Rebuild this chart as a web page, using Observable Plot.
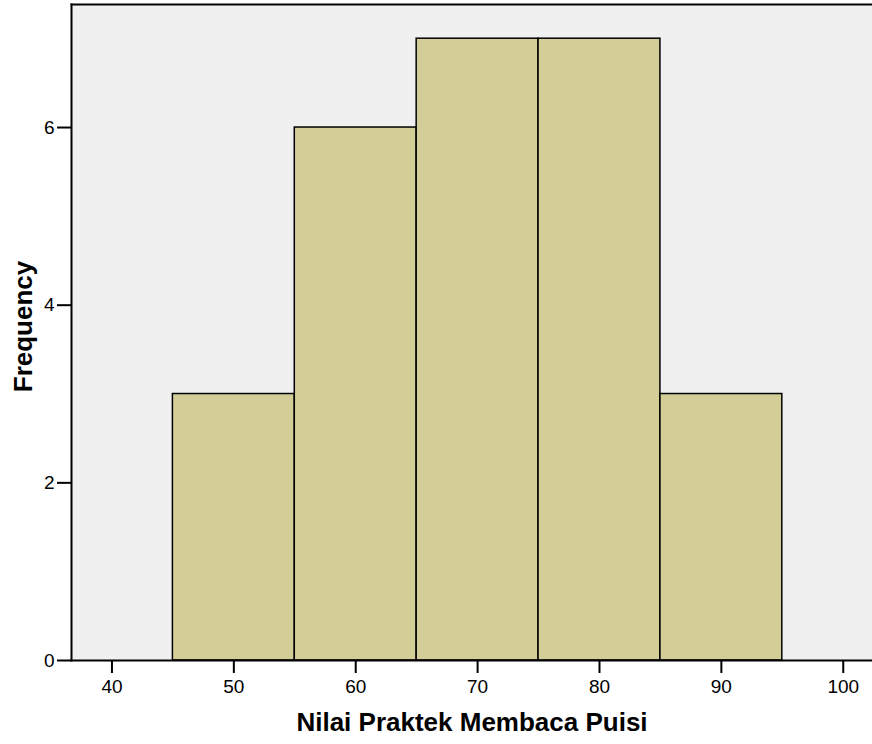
<!DOCTYPE html>
<html>
<head>
<meta charset="utf-8">
<script src="https://cdn.jsdelivr.net/npm/d3@7"></script>
<script src="https://cdn.jsdelivr.net/npm/@observablehq/plot@0.6"></script>
<style>
  html, body { margin: 0; padding: 0; background: #fff; }
  svg { display: block; }
</style>
</head>
<body>
<div id="chart"></div>
<script>
const binStart = [45, 55, 65, 75, 85];
const binEnd   = [55, 65, 75, 85, 95];
const counts   = [3, 6, 7, 7, 3];
const xTicks = [40, 50, 60, 70, 80, 90, 100];
const yTicks = [0, 2, 4, 6];
const xLabel = "Nilai Praktek Membaca Puisi";
const yLabel = "Frequency";

const bins = binStart.map((s, i) => ({x1: s, x2: binEnd[i], y: counts[i]}));

const chart = Plot.plot({
  width: 872,
  height: 744,
  marginTop: 4,
  marginBottom: 84,
  marginLeft: 71,
  marginRight: 0,
  style: {fontFamily: "Liberation Sans, Arial, sans-serif", background: "#fff"},
  x: {domain: [36.68, 102.4], label: null},
  y: {domain: [0, 7.385], label: null},
  marks: [
    Plot.frame({fill: "#f0f0f0", stroke: null}),
    Plot.rectY(bins, {x1: "x1", x2: "x2", y: "y", fill: "#d3ce98", stroke: "#000", strokeWidth: 1.5, inset: 0}),
    Plot.frame({anchor: "top", stroke: "#000", strokeWidth: 2}),
    Plot.frame({anchor: "left", stroke: "#000", strokeWidth: 2}),
    Plot.frame({anchor: "bottom", stroke: "#000", strokeWidth: 2}),
    Plot.axisX({ticks: xTicks, tickSize: 13, tickPadding: 6, fontSize: 19, strokeWidth: 2, label: null, tickFormat: d => String(d)}),
    Plot.axisY({ticks: yTicks, tickSize: 14, tickPadding: 3, fontSize: 19, strokeWidth: 2, label: null, tickFormat: d => String(d)}),
    Plot.text([xLabel], {frameAnchor: "bottom", textAnchor: "middle", lineAnchor: "middle", dy: 62, fontSize: 26, fontWeight: "bold", fill: "#000"}),
    Plot.text([yLabel], {frameAnchor: "left", textAnchor: "middle", lineAnchor: "middle", dx: -48, dy: -6, rotate: -90, fontSize: 26, fontWeight: "bold", fill: "#000"})
  ]
});
document.getElementById("chart").appendChild(chart);
</script>
</body>
</html>
